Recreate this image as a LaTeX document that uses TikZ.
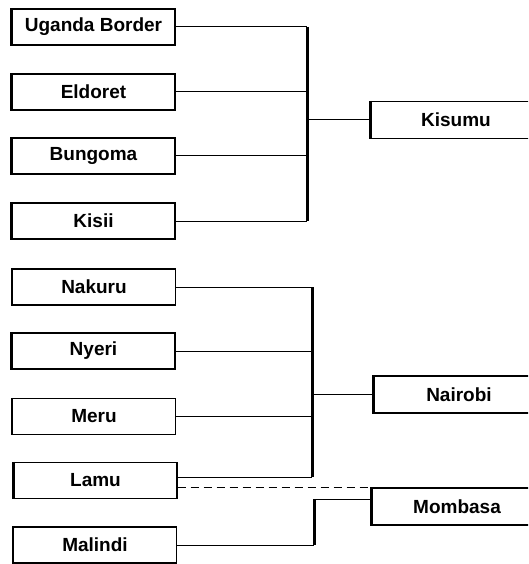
\documentclass[tikz,border=0pt]{standalone}
\usepackage{fontspec}
\setmainfont{Liberation Sans}
\usetikzlibrary{calc}
\begin{document}
\begin{tikzpicture}[x=1pt,y=-1pt,
  town/.style={draw,line width=1.2pt,rectangle,minimum width=163pt,minimum height=36pt,inner sep=0pt,font=\fontsize{19}{21}\selectfont\bfseries},
  hub/.style={draw,line width=1.2pt,rectangle,minimum width=170pt,minimum height=37pt,inner sep=0pt,font=\fontsize{19}{21}\selectfont\bfseries},
  edge/.style={line width=2.2pt},
  link/.style={line width=1pt},
  bar/.style={line width=3pt},
  dashlink/.style={line width=1pt,dash pattern=on 8pt off 5pt}]
\useasboundingbox (0,0) rectangle (528,564);
\begin{scope}
\clip (0,0) rectangle (528,564);
% left boxes
\node[town] (ug) at (93.5,27) {Uganda Border};
\node[town] (el) at (93.5,92) {Eldoret};
\node[town] (bu) at (93.5,156) {Bungoma};
\node[town] (ki) at (93.5,221) {Kisii};
\node[town] (na) at (94,287) {Nakuru};
\node[town] (ny) at (93.5,351) {Nyeri};
\node[town] (me) at (94,416.5) {Meru};
\node[town] (la) at (95.5,480.5) {Lamu};
\node[town] (ma) at (95,545) {Malindi};
% right boxes
\node[hub] (ks) at (456,120) {Kisumu};
\node[hub] (nb) at (459,394.5) {Nairobi};
\node[hub] (mo) at (457,506.5) {Mombasa};
% heavier left edges
\foreach \n in {ug,el,bu,ki,na,ny,me,la,ma,ks,nb,mo}
  \draw[edge] (\n.north west) -- (\n.south west);
% bar coordinates
\coordinate (kbar) at (307,0);
\coordinate (nbar) at (312,0);
\coordinate (mbar) at (314,0);
% Kisumu bracket
\draw[link] (ug.east) -- (ug.east -| kbar);
\draw[link] (el.east) -- (el.east -| kbar);
\draw[link] (bu.east) -- (bu.east -| kbar);
\draw[link] (ki.east) -- (ki.east -| kbar);
\draw[bar] (ug.east -| kbar) -- (ki.east -| kbar);
\draw[link] (ks.west -| kbar) -- (ks.west);
% Nairobi bracket
\coordinate (lamuS) at ($(la.east)+(0,-3.5)$);
\coordinate (lamuD) at ($(la.east)+(0,6.5)$);
\draw[link] (na.east) -- (na.east -| nbar);
\draw[link] (ny.east) -- (ny.east -| nbar);
\draw[link] (me.east) -- (me.east -| nbar);
\draw[link] (lamuS) -- (lamuS -| nbar);
\draw[bar] (na.east -| nbar) -- (lamuS -| nbar);
\draw[link] (nb.west -| nbar) -- (nb.west);
% Mombasa
\draw[dashlink] (lamuD) -- (lamuD -| mo.west);
\coordinate (momIn) at ($(mo.west)+(0,-7.5)$);
\draw[link] (ma.east) -- (ma.east -| mbar);
\draw[bar] (ma.east -| mbar) -- (momIn -| mbar);
\draw[link] (momIn -| mbar) -- (momIn);
\end{scope}
\end{tikzpicture}
\end{document}
